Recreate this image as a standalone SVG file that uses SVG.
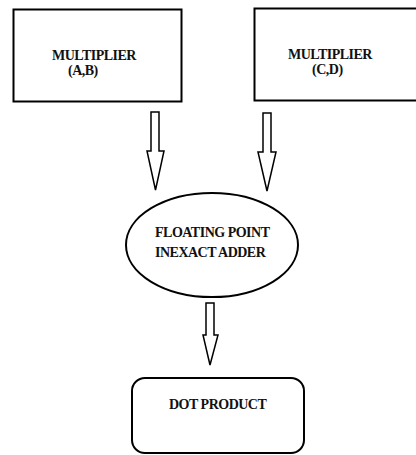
<svg xmlns="http://www.w3.org/2000/svg" width="416" height="455" viewBox="0 0 416 455">
<style>
.box{fill:#fff;stroke:#000;stroke-width:2}
.arr{fill:#fff;stroke:#000;stroke-width:1.5;stroke-linejoin:miter}
.t{font-family:"Liberation Serif","Times New Roman",serif;font-weight:bold;font-size:14px;fill:#111;letter-spacing:-0.5px}
</style>
<rect width="416" height="455" fill="#fff"/>
<g id="mulAB">
<rect class="box" x="13.5" y="9.5" width="168" height="92"/>
<text class="t" x="52" y="60">MULTIPLIER</text>
<text class="t" x="68" y="75">(A,B)</text>
</g>
<g id="mulCD">
<rect class="box" x="254.5" y="8.5" width="164" height="92"/>
<text class="t" x="288" y="59">MULTIPLIER</text>
<text class="t" x="312" y="74">(C,D)</text>
</g>
<g id="adder">
<ellipse class="box" cx="212" cy="245" rx="86" ry="52"/>
<text class="t" x="155" y="237">FLOATING POINT</text>
<text class="t" x="155" y="257">INEXACT ADDER</text>
</g>
<g id="dot">
<rect class="box" x="132" y="378" width="172" height="75" rx="13"/>
<text class="t" x="169" y="409">DOT PRODUCT</text>
</g>
<g id="connectors">
<polygon class="arr" points="151,112 159,112 159,151 164,151 155.5,190 147,151 151,151"/>
<polygon class="arr" points="263,113 271,113 271,152 276,152 267,191 258,152 263,152"/>
<polygon class="arr" points="206,303 214,303 214,335 218,335 210,365 203,335 206,335"/>
</g>
</svg>
